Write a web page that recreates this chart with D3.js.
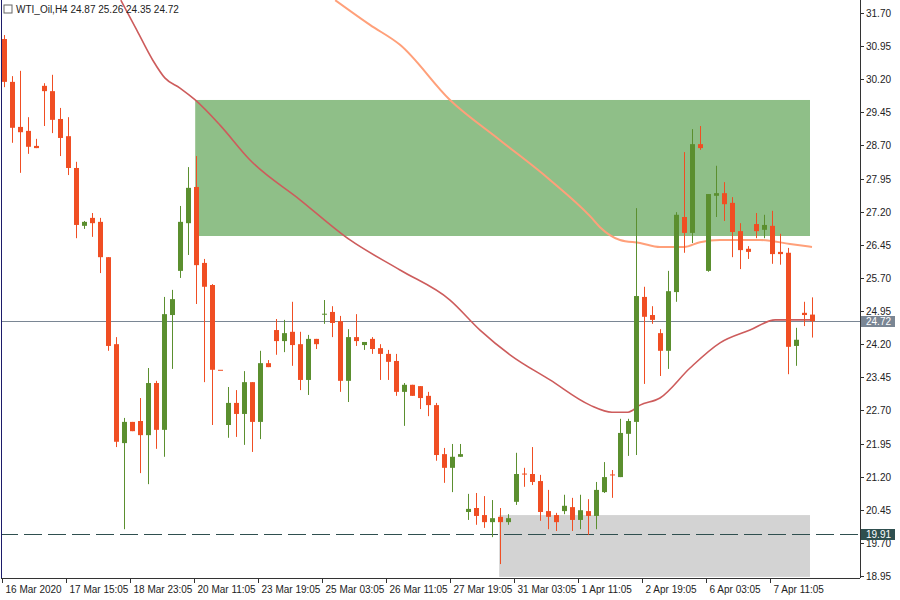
<!DOCTYPE html>
<html>
<head>
<meta charset="utf-8">
<script src="https://cdn.jsdelivr.net/npm/d3@7"></script>
<style>
  body { margin: 0; background: #fff; }
  text { font-family: "Liberation Sans", Arial, sans-serif; font-size: 10px; }
</style>
</head>
<body>
<svg class="main-svg" width="900" height="600"></svg>
<script>
// candles: open, high, low, close (one per H4 bar)
const opens  = [31.11,30.14,29.12,29.03,28.69,30.05,29.93,29.30,28.91,28.19,26.88,27.06,26.97,26.17,24.20,21.96,22.44,22.46,22.14,23.32,22.26,24.86,25.86,26.94,27.76,26.04,25.54,23.62,22.37,22.87,22.62,23.34,22.44,23.77,24.52,24.27,24.48,24.20,23.39,24.32,24.87,24.93,24.72,23.37,24.36,24.18,24.32,24.11,23.98,23.82,23.12,23.28,23.25,23.03,22.82,21.71,21.40,21.65,20.40,20.49,20.33,20.17,20.29,20.17,20.63,21.27,21.26,21.10,20.42,20.33,20.42,20.51,20.22,20.42,20.31,20.85,21.25,21.19,22.17,22.44,25.27,24.86,24.45,24.05,25.38,27.08,26.72,28.73,25.86,27.56,27.62,27.40,26.76,26.36,26.92,26.79,26.88,26.29,26.27,24.16,24.91,24.87]
const highs  = [31.20,30.27,30.39,29.34,28.85,30.11,30.30,29.55,29.34,28.33,26.99,27.17,27.06,26.17,24.36,22.53,22.44,22.98,23.66,23.37,25.27,25.43,27.33,28.21,28.46,26.13,25.56,23.62,23.23,23.16,23.59,23.34,24.05,23.84,24.77,24.75,25.16,24.48,24.41,24.32,25.20,25.06,24.84,24.54,24.88,24.25,24.36,24.20,24.07,23.98,23.32,23.28,23.25,23.12,22.87,21.85,21.94,21.94,20.81,20.83,20.76,20.67,20.49,20.35,21.74,21.40,21.87,21.24,20.90,20.38,20.79,20.72,20.79,20.69,21.08,21.53,21.35,22.51,22.51,27.28,25.50,25.06,24.54,25.86,27.19,28.55,29.07,29.14,27.60,28.24,27.87,27.53,26.94,26.42,27.17,27.13,27.22,26.70,26.38,24.57,25.16,25.26]
const lows   = [30.02,28.76,28.08,28.51,28.64,29.14,28.98,28.46,28.03,26.60,26.81,26.63,25.81,24.05,21.87,20.01,22.23,21.28,21.03,21.83,21.65,23.64,25.70,26.22,25.11,23.34,22.37,23.62,22.08,22.10,21.92,21.76,22.05,23.68,23.96,24.02,23.71,23.16,23.05,24.09,24.66,24.36,23.12,22.89,24.16,24.07,23.98,23.39,23.39,23.03,22.35,23.03,22.73,22.57,21.56,21.06,20.85,21.65,20.22,20.11,20.04,19.83,19.22,20.11,20.56,20.97,21.01,20.20,20.01,19.97,20.35,19.97,20.01,19.88,20.01,20.83,20.72,21.19,21.67,21.69,23.30,24.66,23.48,23.64,25.16,26.27,26.49,28.60,25.84,27.08,26.99,26.17,25.90,26.13,26.60,26.60,26.02,26.00,23.52,23.71,24.61,24.35]
const closes = [30.14,29.10,29.00,28.67,28.64,29.93,29.28,28.87,28.19,26.90,26.97,26.94,26.17,24.16,21.99,22.44,22.23,22.14,23.32,22.26,24.88,25.22,26.97,27.74,25.99,25.50,23.62,23.62,22.87,22.62,23.34,22.44,23.77,23.68,24.27,24.45,24.18,23.39,24.32,24.20,24.89,24.68,23.37,24.36,24.27,24.25,24.09,23.98,23.80,23.12,23.28,23.03,22.98,22.82,21.69,21.40,21.65,21.71,20.47,20.31,20.17,20.26,20.17,20.26,21.26,21.25,21.08,20.40,20.29,20.17,20.54,20.22,20.44,20.31,20.90,21.19,21.23,22.19,22.46,25.29,24.82,24.75,24.05,25.40,27.13,26.72,28.73,28.64,27.60,27.62,27.37,26.74,26.33,26.29,26.76,26.90,26.24,26.24,24.14,24.30,24.86,24.72]

// moving averages: [bar index, price]
const maFast = [[14.6,31.99],[16.6,31.31],[18.6,30.63],[20.1,30.23],[22,30.00],[23.9,29.73],[27,29.16],[30.75,28.37],[37,27.47],[43.25,26.56],[49.5,25.88],[55.75,25.20],[59.5,24.52],[63.25,23.96],[68.25,23.39],[73.25,22.82],[76,22.66],[78,22.66],[79.5,22.82],[82,22.98],[85.75,23.66],[89.5,24.23],[93.25,24.52],[96.4,24.75],[98.25,24.75],[101,24.75]]
const maSlow = [[41.4,31.99],[45.75,31.43],[49.5,30.98],[55.75,29.73],[62,28.82],[68.25,27.92],[73.25,27.10],[74.5,26.85],[77,26.56],[79.5,26.49],[82,26.40],[85,26.40],[87,26.51],[89.5,26.56],[94.5,26.56],[98.25,26.47],[101,26.40]]

// zones: [start bar, end bar, top price, bottom price]
const greenZone = [23.9, 100.75, 29.73, 26.65]
const greyZone = [61.9, 100.75, 20.33, 18.93]

const lastPrice = 24.72
const levelPrice = 19.91
const priceTicks = d3.range(0, 18).map(k => +(18.95 + 0.75 * k).toFixed(2))
const timeLabels = ['16 Mar 2020', '17 Mar 15:05', '18 Mar 23:05', '20 Mar 11:05', '23 Mar 19:05', '25 Mar 03:05', '26 Mar 11:05', '27 Mar 19:05', '31 Mar 03:05', '1 Apr 11:05', '2 Apr 19:05', '6 Apr 03:05', '7 Apr 11:05']

const svg = d3.select('.main-svg')
const plotR = 860
const plotB = 578

const x = d3.scaleLinear().domain([0, 1]).range([4, 12])
const y = d3.scaleLinear().domain([18.905, 31.994]).range([plotB, 0])

const plot = svg.append('g')
svg.append('defs').append('clipPath').attr('id', 'clip')
  .append('rect').attr('x', 2).attr('y', 0).attr('width', plotR - 2).attr('height', plotB)
plot.attr('clip-path', 'url(#clip)')

// zones
function zone (z, color) {
  plot.append('rect')
    .attr('x', x(z[0])).attr('width', x(z[1]) - x(z[0]))
    .attr('y', y(z[2])).attr('height', y(z[3]) - y(z[2]))
    .attr('fill', color)
}
zone(greenZone, '#8fbf88')
zone(greyZone, '#d3d3d3')

// level lines
plot.append('line').attr('x1', 0).attr('x2', plotR)
  .attr('y1', Math.round(y(lastPrice)) + 0.5).attr('y2', Math.round(y(lastPrice)) + 0.5)
  .attr('stroke', '#7a8694').attr('stroke-width', 1)
plot.append('line').attr('x1', 0).attr('x2', plotR)
  .attr('y1', Math.round(y(levelPrice)) + 0.5).attr('y2', Math.round(y(levelPrice)) + 0.5)
  .attr('stroke', '#2f4f4f').attr('stroke-width', 1).attr('stroke-dasharray', '18,6')

// moving averages
const line = d3.line().x(d => x(d[0])).y(d => y(d[1])).curve(d3.curveMonotoneX)
plot.append('path').attr('d', line(maSlow)).attr('fill', 'none')
  .attr('stroke', '#ffa07a').attr('stroke-width', 2)
plot.append('path').attr('d', line(maFast)).attr('fill', 'none')
  .attr('stroke', '#cd5c5c').attr('stroke-width', 1.6)

// candles
const bars = opens.map((o, i) => ({ i, o, h: highs[i], l: lows[i], c: closes[i] }))
const col = d => d.c > d.o ? '#5b8f2f' : '#f04e23'
const g = plot.selectAll('.candle').data(bars).enter().append('g').attr('class', 'candle')
g.append('line')
  .attr('x1', d => Math.round(x(d.i)) + 0.5).attr('x2', d => Math.round(x(d.i)) + 0.5)
  .attr('y1', d => y(d.h)).attr('y2', d => y(d.l))
  .attr('stroke', col).attr('stroke-width', 1)
g.append('rect')
  .attr('x', d => Math.round(x(d.i)) - 2)
  .attr('width', 5)
  .attr('y', d => y(Math.max(d.o, d.c)))
  .attr('height', d => Math.max(1, Math.abs(y(d.o) - y(d.c))))
  .attr('fill', col)

// frame
svg.append('line').attr('x1', 1.5).attr('x2', 1.5).attr('y1', 0).attr('y2', plotB).attr('stroke', '#1c1c6a')
svg.append('line').attr('x1', 1).attr('x2', plotR).attr('y1', plotB + 0.5).attr('y2', plotB + 0.5).attr('stroke', '#333')
svg.append('line').attr('x1', plotR + 0.5).attr('x2', plotR + 0.5).attr('y1', 0).attr('y2', plotB).attr('stroke', '#333')

// price axis
const ya = svg.append('g')
priceTicks.forEach(p => {
  const yy = Math.round(y(p)) + 0.5
  ya.append('line').attr('x1', plotR).attr('x2', plotR + 4).attr('y1', yy).attr('y2', yy).attr('stroke', '#333')
  ya.append('text').attr('x', plotR + 6).attr('y', yy + 3.5).attr('fill', '#222').text(p.toFixed(2))
})
function tag (p, bg) {
  const yy = Math.round(y(p))
  ya.append('rect').attr('x', plotR + 1).attr('y', yy - 5).attr('width', 34).attr('height', 11).attr('fill', bg)
  ya.append('text').attr('x', plotR + 6).attr('y', yy + 4).attr('fill', '#fff').text(p.toFixed(2))
}
tag(lastPrice, '#7a8694')
tag(levelPrice, '#2f4f4f')

// time axis
timeLabels.forEach((t, k) => {
  const xx = Math.round(x(k * 8)) - 1.5
  svg.append('line').attr('x1', xx).attr('x2', xx).attr('y1', plotB).attr('y2', plotB + 5).attr('stroke', '#333')
  svg.append('text').attr('x', xx + 3).attr('y', plotB + 15).attr('fill', '#222').text(t)
})

// title
svg.append('rect').attr('x', 4).attr('y', 5).attr('width', 8).attr('height', 8).attr('fill', 'none').attr('stroke', '#666')
svg.append('text').attr('x', 16).attr('y', 13).attr('fill', '#222')
  .text('WTI_Oil,H4  ' + [opens, highs, lows, closes].map(a => a[a.length - 1].toFixed(2)).join(' '))
</script>
</body>
</html>
